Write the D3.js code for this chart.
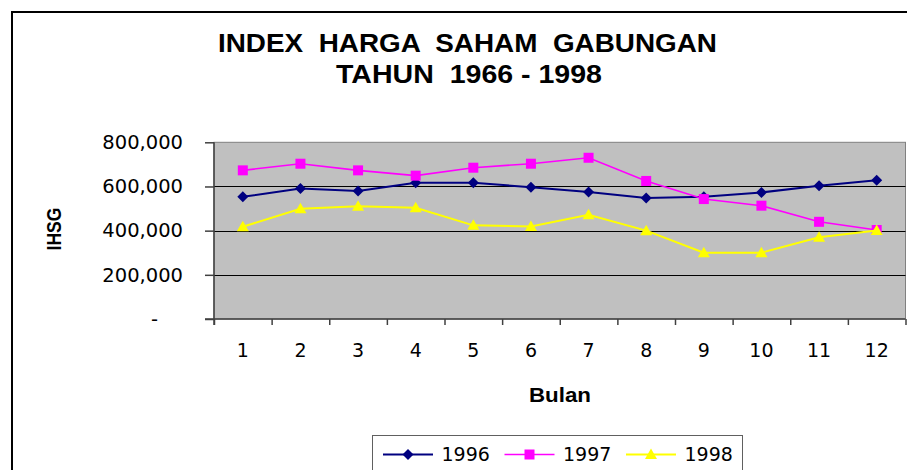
<!DOCTYPE html>
<html>
<head>
<meta charset="utf-8">
<script src="https://cdn.jsdelivr.net/npm/d3@7"></script>
<style>
  html, body { margin: 0; padding: 0; background: #ffffff; }
  svg { display: block; }
</style>
</head>
<body>
<div id="chart"></div>
<script>
// ---- data ----
const months = ["1","2","3","4","5","6","7","8","9","10","11","12"];
const values1996 = [553000, 591000, 579000, 617000, 617000, 597000, 575000, 548000, 553000, 573000, 603000, 628000];
const values1997 = [673000, 703000, 673000, 649000, 685000, 703000, 730000, 625000, 543000, 513000, 440000, 403000];
const values1998 = [418000, 499000, 510000, 504000, 424000, 419000, 472000, 400000, 300000, 300000, 370000, 401000];
const seriesNames = ["1996", "1997", "1998"];
const yTicks = [0, 200000, 400000, 600000, 800000];
const titleLines = ["INDEX  HARGA  SAHAM  GABUNGAN", "TAHUN  1966 - 1998"];
const xTitle = "Bulan";
const yTitle = "IHSG";

const W = 907, H = 470;
const plot = { left: 214, right: 905.5, top: 142.3, bottom: 319 };

const svg = d3.select("#chart").append("svg")
  .attr("width", W).attr("height", H);

// outer frame
svg.append("rect")
  .attr("x", 12).attr("y", 12).attr("width", 920).attr("height", 480)
  .attr("fill", "#fff").attr("stroke", "#000").attr("stroke-width", 2);

// title
const titleFont = "'Liberation Sans', Arial, sans-serif";
svg.append("text").attr("x", 467.5).attr("y", 51.5)
  .attr("text-anchor", "middle").attr("font-family", titleFont)
  .attr("font-weight", "bold").attr("font-size", 26)
  .attr("textLength", 499).attr("lengthAdjust", "spacingAndGlyphs")
  .style("white-space", "pre")
  .text(titleLines[0]);
svg.append("text").attr("x", 469).attr("y", 82.5)
  .attr("text-anchor", "middle").attr("font-family", titleFont)
  .attr("font-weight", "bold").attr("font-size", 26)
  .attr("textLength", 266).attr("lengthAdjust", "spacingAndGlyphs")
  .style("white-space", "pre")
  .text(titleLines[1]);

// scales
const x = d3.scaleBand().domain(months).range([plot.left, plot.right]).padding(0);
const xEdge = d3.scaleLinear().domain([0, months.length]).range([plot.left, plot.right]);
const y = d3.scaleLinear().domain([0, 800000]).range([plot.bottom, plot.top]);

// plot area
svg.append("rect")
  .attr("x", plot.left).attr("y", plot.top)
  .attr("width", plot.right - plot.left).attr("height", plot.bottom - plot.top)
  .attr("fill", "#c0c0c0").attr("stroke", "#808080").attr("stroke-width", 1);

// gridlines
svg.append("g").selectAll("line")
  .data(yTicks.filter(d => d > 0 && d < 800000))
  .join("line")
  .attr("x1", plot.left).attr("x2", plot.right)
  .attr("y1", d => Math.round(y(d)) + 0.5).attr("y2", d => Math.round(y(d)) + 0.5)
  .attr("stroke", "#000").attr("stroke-width", 1);

const tickFont = "'DejaVu Sans', Verdana, sans-serif";

// y axis
const yAxis = svg.append("g").attr("transform", `translate(${plot.left},0)`)
  .call(d3.axisLeft(y).tickValues(yTicks).tickSize(9).tickPadding(22)
    .tickFormat(d => d === 0 ? "-" : d3.format(",")(d)));
yAxis.select(".domain").attr("stroke", "#404040").attr("stroke-width", 1.5)
  .attr("d", `M0,${plot.top}V${plot.bottom + 6}`);
yAxis.selectAll(".tick line").attr("stroke", "#404040").attr("stroke-width", 1.5);
yAxis.selectAll(".tick text")
  .attr("font-family", tickFont).attr("font-size", 19.5).attr("fill", "#000");
yAxis.selectAll(".tick").filter(d => d === 0).select("text").attr("x", -56);

// x axis ticks at category edges
const xTickAxis = svg.append("g").attr("transform", `translate(0,${plot.bottom})`)
  .call(d3.axisBottom(xEdge).tickValues(d3.range(0, months.length + 1)).tickSize(6).tickFormat(""));
xTickAxis.select(".domain").attr("stroke", "#404040").attr("stroke-width", 1.5)
  .attr("d", `M${plot.left - 9},0H${plot.right}`);
xTickAxis.selectAll(".tick line").attr("stroke", "#404040").attr("stroke-width", 1.5);

// x axis labels at category centers
const xLab = svg.append("g").attr("transform", `translate(0,${plot.bottom})`)
  .call(d3.axisBottom(x).tickSize(0).tickPadding(25));
xLab.select(".domain").remove();
xLab.selectAll(".tick text")
  .attr("font-family", tickFont).attr("font-size", 19).attr("fill", "#000");

// axis titles
svg.append("text").attr("x", 560).attr("y", 402)
  .attr("text-anchor", "middle").attr("font-family", titleFont)
  .attr("font-weight", "bold").attr("font-size", 20)
  .attr("textLength", 62).attr("lengthAdjust", "spacingAndGlyphs")
  .text(xTitle);
svg.append("text")
  .attr("transform", "translate(61,229) rotate(-90)")
  .attr("text-anchor", "middle").attr("font-family", titleFont)
  .attr("font-weight", "bold").attr("font-size", 21)
  .attr("textLength", 43).attr("lengthAdjust", "spacingAndGlyphs")
  .text(yTitle);

// series
const series = [
  { name: seriesNames[0], values: values1996, color: "#000080", width: 2, symbol: "diamond" },
  { name: seriesNames[1], values: values1997, color: "#ff00ff", width: 1.6, symbol: "square" },
  { name: seriesNames[2], values: values1998, color: "#ffff00", width: 2, symbol: "triangle" }
];

function markerPath(sym) {
  if (sym === "diamond") return "M0,-5.5L5.5,0L0,5.5L-5.5,0Z";
  if (sym === "square") return "M-5,-5H5V5H-5Z";
  return "M0,-6L6,4.5H-6Z";
}

const line = d3.line().x((d, i) => x(months[i]) + x.bandwidth() / 2).y(d => y(d));

series.forEach(s => {
  const g = svg.append("g");
  g.append("path").attr("d", line(s.values))
    .attr("fill", "none").attr("stroke", s.color).attr("stroke-width", s.width);
  g.selectAll("path.m").data(s.values).join("path").attr("class", "m")
    .attr("d", markerPath(s.symbol))
    .attr("transform", (d, i) => `translate(${x(months[i]) + x.bandwidth() / 2},${y(d)})`)
    .attr("fill", s.color);
});

// legend
const legend = svg.append("g");
legend.append("rect").attr("x", 372.5).attr("y", 435.5).attr("width", 370).attr("height", 50)
  .attr("fill", "#fff").attr("stroke", "#606060").attr("stroke-width", 1);
const legX = [383, 504.5, 626];
series.forEach((s, i) => {
  const lx = legX[i], ly = 454.5;
  legend.append("line").attr("x1", lx).attr("x2", lx + 50).attr("y1", ly).attr("y2", ly)
    .attr("stroke", s.color).attr("stroke-width", s.width);
  legend.append("path").attr("d", markerPath(s.symbol))
    .attr("transform", `translate(${lx + 25},${ly})`).attr("fill", s.color);
  legend.append("text").attr("x", lx + 58.5).attr("y", 461)
    .attr("font-family", tickFont).attr("font-size", 19).attr("fill", "#000")
    .text(s.name);
});
</script>
</body>
</html>
